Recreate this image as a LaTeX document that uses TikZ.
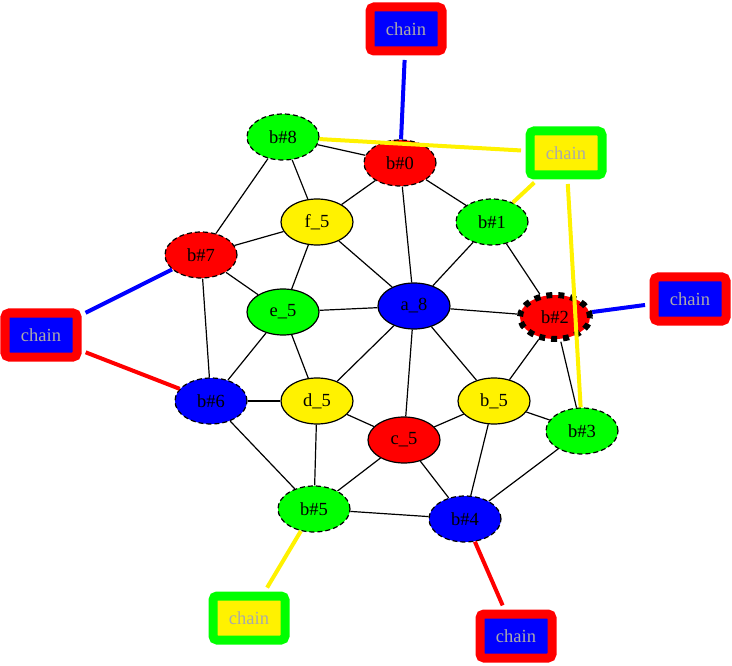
\documentclass[tikz,border=0pt]{standalone}
\usepackage{fontspec}
\setmainfont{Liberation Serif}
\usetikzlibrary{shapes.geometric}
\definecolor{chainGray}{RGB}{170,170,170}

\tikzset{
    vert/.style={ellipse, draw, line width=1.2pt, minimum width=72pt, minimum height=46pt,
        inner sep=0pt, font=\fontsize{18.5}{20}\selectfont},
    bvert/.style={vert, dash pattern=on 5pt off 3pt},
    chainbox/.style={rectangle, line width=9pt, rounded corners=4pt,
        minimum width=72pt, minimum height=44pt, text=chainGray,
        font=\fontsize{18.5}{20}\selectfont},
    link/.style={line width=4pt, shorten <=4.5pt}
}

\begin{document}
\begin{tikzpicture}[x=1pt, y=-1pt]
            \useasboundingbox (0,0) rectangle (732,666);

            % Inner vertices
            \node[vert, fill=blue]   (a8) at (414,306) {a\_8};
            \node[vert, fill=yellow] (b5) at (494,401) {b\_5};
            \node[vert, fill=red]    (c5) at (404,440) {c\_5};
            \node[vert, fill=yellow] (d5) at (317,401) {d\_5};
            \node[vert, fill=green]  (e5) at (283,312) {e\_5};
            \node[vert, fill=yellow] (f5) at (317,222) {f\_5};

            % Boundary vertices
            \node[bvert, fill=red]   (b0) at (400,163) {b\#0};
            \node[bvert, fill=green] (b1) at (492,222) {b\#1};
            \node[vert, fill=red, line width=6pt, dash pattern=on 6pt off 6pt,
                minimum width=70pt, minimum height=44pt] (b2) at (555,317) {b\#2};
            \node[bvert, fill=green] (b3) at (582,431) {b\#3};
            \node[bvert, fill=blue]  (b4) at (465,519) {b\#4};
            \node[bvert, fill=green] (b5b) at (314,509) {b\#5};
            \node[bvert, fill=blue]  (b6) at (211,401) {b\#6};
            \node[bvert, fill=red]   (b7) at (201,255) {b\#7};
            \node[bvert, fill=green] (b8) at (283,137) {b\#8};

            % Chains
            \node[chainbox, draw=red, fill=blue]      (ch0) at (406,29)  {chain};
            \node[chainbox, draw=green, fill=yellow]  (ch1) at (566,153) {chain};
            \node[chainbox, draw=red, fill=blue]      (ch2) at (690,299) {chain};
            \node[chainbox, draw=red, fill=blue]      (ch3) at (41,335)  {chain};
            \node[chainbox, draw=green, fill=yellow]  (ch4) at (249,618) {chain};
            \node[chainbox, draw=red, fill=blue]      (ch5) at (516,636) {chain};

            % Edges
            \foreach \u/\v in {b8/b0, b8/b7, b8/f5, b0/f5, b0/b1, b0/a8, b1/a8, b1/b2,
                b7/f5, b7/e5, b7/b6, f5/e5, f5/a8, e5/a8, e5/b6, e5/d5,
                a8/b2, a8/d5, a8/c5, a8/b5, b2/b5, b2/b3, b6/d5, b6/b5b,
                d5/c5, d5/b5b, c5/b5, c5/b5b, c5/b4, b5/b3, b5/b4, b3/b4, b5b/b4}
                \draw[line width=1.2pt] (\u) -- (\v);

            % Chain links
            \draw[link, blue]   (ch0) -- (b0);
            \draw[link, yellow] (ch1) -- (b8);
            \draw[link, yellow] (ch1) -- (b1);
            \draw[link, yellow] (ch1) -- (b3);
            \draw[link, blue]   (ch2) -- (b2);
            \draw[link, blue]   (ch3) -- (b7);
            \draw[link, red]    (ch3) -- (b6);
            \draw[link, yellow] (ch4) -- (b5b);
            \draw[link, red]    (ch5) -- (b4);
        \end{tikzpicture}
\end{document}
